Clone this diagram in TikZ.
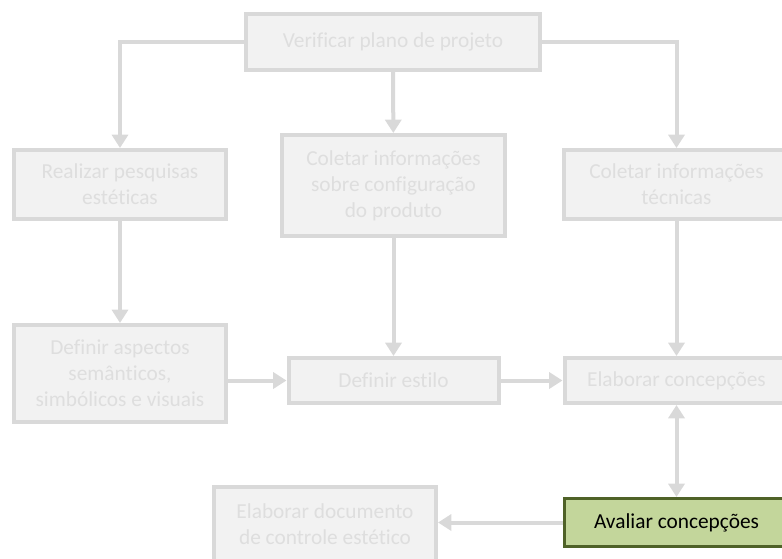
\documentclass[tikz,border=0pt]{standalone}
\usepackage{fontspec}
\setmainfont[Ligatures=CommonOff]{Carlito}
\usetikzlibrary{arrows.meta}
\definecolor{boxline}{RGB}{217,217,217}
\definecolor{boxfill}{RGB}{242,242,242}
\definecolor{boxtext}{RGB}{222,222,222}
\definecolor{greenfill}{RGB}{195,214,155}
\definecolor{greenline}{RGB}{79,98,40}
\tikzstyle{faded} = [rectangle, draw=boxline, line width=3pt, fill=boxfill, text=boxtext, align=center, font=\fontsize{16}{19.5}\selectfont]
\tikzstyle{current} = [rectangle, draw=greenline, line width=2.25pt, fill=greenfill, text=black, align=center, font=\fontsize{16}{19.5}\selectfont]
\tikzstyle{arrow} = [draw=boxline, line width=3pt, >={Triangle[width=12pt,length=10pt]}]

\begin{document}
\begin{tikzpicture}[x=0.75pt, y=-0.75pt]
        \useasboundingbox (0,0) rectangle (782,558);
        \node [faded, minimum width=294*0.75pt, minimum height=56*0.75pt] at (393,42) (plano) {Verificar plano de projeto};
        \node [faded, minimum width=212*0.75pt, minimum height=69*0.75pt] at (120,184.5) (pesq) {Realizar pesquisas\\estéticas};
        \node [faded, minimum width=223*0.75pt, minimum height=101*0.75pt] at (393.5,185.5) (config) {Coletar informações\\sobre configuração\\do produto};
        \node [faded, minimum width=226*0.75pt, minimum height=69*0.75pt] at (676.5,184.5) (tecn) {Coletar informações\\técnicas};
        \node [faded, minimum width=212*0.75pt, minimum height=97*0.75pt] at (120,373.5) (aspectos) {Definir aspectos\\semânticos,\\simbólicos e visuais};
        \node [faded, minimum width=210*0.75pt, minimum height=45*0.75pt] at (393.5,380.5) (estilo) {Definir estilo};
        \node [faded, minimum width=224*0.75pt, minimum height=45*0.75pt] at (676.5,380.5) (concep) {Elaborar concepções};
        \node [faded, minimum width=222*0.75pt, minimum height=74*0.75pt] at (325,524) (doc) {Elaborar documento\\de controle estético};
        \node [current, minimum width=225*0.75pt, minimum height=48*0.75pt] at (676.5,522.5) (aval) {Avaliar concepções};
        \draw [arrow, ->] (plano.west) -| (pesq);
        \draw [arrow, ->] (plano) -- (config);
        \draw [arrow, ->] (plano.east) -| (tecn);
        \draw [arrow, ->] (pesq) -- (aspectos);
        \draw [arrow, ->] (config) -- (estilo);
        \draw [arrow, ->] (tecn) -- (concep);
        \draw [arrow, ->] (aspectos.east |- estilo) -- (estilo);
        \draw [arrow, ->] (estilo) -- (concep);
        \draw [arrow, <->] (concep) -- (aval);
        \draw [arrow, ->] (aval.west) -- (doc.east |- aval.west);
        \end{tikzpicture}
\end{document}
